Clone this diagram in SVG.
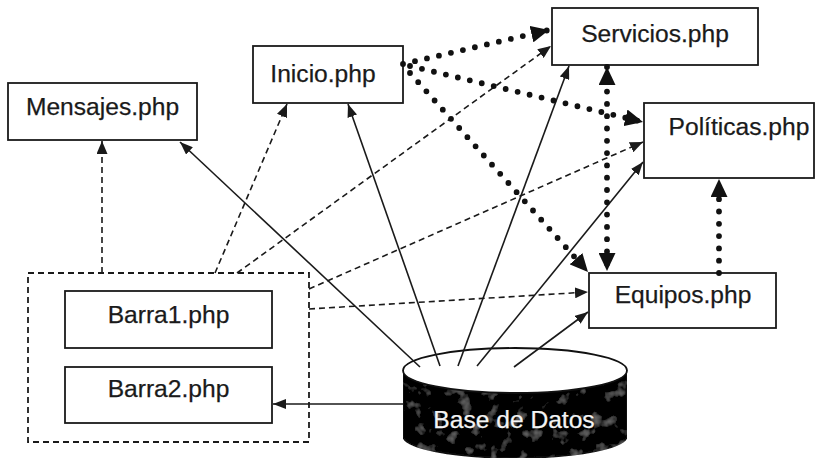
<svg xmlns="http://www.w3.org/2000/svg" width="826" height="461" viewBox="0 0 826 461">
  <style>
    .box { fill: #fff; stroke: #1a1a1a; stroke-width: 1.8; }
    .grp { fill: none; stroke: #1a1a1a; stroke-width: 1.8; stroke-dasharray: 6 4; }
    .lbl { font-family: "Liberation Sans", Arial, sans-serif; font-size: 24.6px; fill: #1a1a1a; text-anchor: middle; stroke: #1a1a1a; stroke-width: 0.25; }
    .solid { fill: none; stroke: #1a1a1a; stroke-width: 1.6; marker-end: url(#arrS); }
    .dash { fill: none; stroke: #1a1a1a; stroke-width: 1.6; stroke-dasharray: 6 4; marker-end: url(#arrD); }
    .dot { fill: none; stroke: #111; stroke-width: 5.8; stroke-linecap: round; stroke-dasharray: 0 12.3; marker-end: url(#arrB); }
  </style>
  <defs>
    <marker id="arrS" markerUnits="userSpaceOnUse" markerWidth="14" markerHeight="10" refX="13" refY="5" orient="auto">
      <path d="M0,0 L13,5 L0,10 z" fill="#1a1a1a"/>
    </marker>
    <marker id="arrD" markerUnits="userSpaceOnUse" markerWidth="14" markerHeight="11" refX="13" refY="5.5" orient="auto">
      <path d="M0,0 L13,5.5 L0,11 z" fill="#1a1a1a"/>
    </marker>
    <marker id="arrB" markerUnits="userSpaceOnUse" markerWidth="19" markerHeight="17" refX="18" refY="8.5" orient="auto-start-reverse">
      <path d="M0,0 L18,8.5 L0,17 z" fill="#111"/>
    </marker>
    <!-- soft mottling on the drum body -->
    <filter id="grain" x="0" y="0" width="100%" height="100%">
      <feTurbulence type="fractalNoise" baseFrequency="0.07" numOctaves="3" seed="7" result="n"/>
      <feColorMatrix in="n" type="matrix" values="0 0 0 0 0.22  0 0 0 0 0.22  0 0 0 0 0.22  0 0 0 2.2 -1.3" result="specks"/>
      <feComposite in="specks" in2="SourceGraphic" operator="in" result="clip"/>
      <feMerge><feMergeNode in="SourceGraphic"/><feMergeNode in="clip"/></feMerge>
    </filter>
  </defs>

  <rect width="826" height="461" fill="#fff"/>

  <!-- pages -->
  <g id="mensajes">
    <rect class="box" x="8" y="83" width="189" height="57"/>
    <text class="lbl" x="102.5" y="115">Mensajes.php</text>
  </g>
  <g id="inicio">
    <rect class="box" x="253" y="46" width="150" height="57"/>
    <text class="lbl" x="323" y="82">Inicio.php</text>
  </g>
  <g id="servicios">
    <rect class="box" x="552" y="8" width="206" height="57"/>
    <text class="lbl" x="655" y="42">Servicios.php</text>
  </g>
  <g id="politicas">
    <rect class="box" x="644" y="103" width="170" height="75"/>
    <text class="lbl" x="739" y="135">Políticas.php</text>
  </g>
  <g id="equipos">
    <rect class="box" x="589" y="273" width="187" height="55"/>
    <text class="lbl" x="683" y="303">Equipos.php</text>
  </g>

  <!-- navigation bars -->
  <g id="barras">
    <rect class="grp" x="28" y="273" width="281" height="169"/>
    <g id="barra1">
      <rect class="box" x="65" y="291" width="207" height="57"/>
      <text class="lbl" x="168.5" y="323">Barra1.php</text>
    </g>
    <g id="barra2">
      <rect class="box" x="65" y="367" width="207" height="56"/>
      <text class="lbl" x="168.5" y="397">Barra2.php</text>
    </g>
  </g>

  <!-- database -->
  <g id="base-de-datos">
    <path d="M403,370.5 L403,436 A112,22 0 0 0 627,436 L627,370.5 Z" fill="#050505" stroke="#111" stroke-width="1.5" filter="url(#grain)"/>
    <ellipse cx="515" cy="370.5" rx="112" ry="22.5" fill="#fff" stroke="#111" stroke-width="1.8"/>
    <text class="lbl" x="514" y="428" style="fill:#f4f4f4;stroke:#f4f4f4">Base de Datos</text>
  </g>

  <!-- connectors -->
  <g id="connectors">
    <!-- data reads -->
    <line class="solid" x1="420" y1="367" x2="180" y2="142"/>
    <line class="solid" x1="440" y1="366" x2="348" y2="104"/>
    <line class="solid" x1="458" y1="366" x2="569" y2="66"/>
    <line class="solid" x1="477" y1="366" x2="643" y2="162"/>
    <line class="solid" x1="514" y1="367" x2="588" y2="312"/>
    <line class="solid" x1="403" y1="404" x2="273" y2="404"/>

    <!-- links from the bars -->
    <line class="dash" x1="102" y1="273" x2="102" y2="141"/>
    <line class="dash" x1="215" y1="273" x2="287" y2="104"/>
    <line class="dash" x1="237" y1="273" x2="551" y2="46"/>
    <line class="dash" x1="309" y1="289" x2="643" y2="142"/>
    <line class="dash" x1="309" y1="309" x2="588" y2="292"/>

    <!-- page-to-page links -->
    <line class="dot" x1="403" y1="64" x2="549" y2="30"/>
    <line class="dot" x1="410" y1="66" x2="643" y2="122"/>
    <line class="dot" x1="410" y1="73" x2="588" y2="272"/>
    <line class="dot" x1="607" y1="67" x2="607" y2="271" style="marker-start:url(#arrB)"/>
    <line class="dot" x1="719" y1="273" x2="719" y2="179"/>
  </g>
</svg>
